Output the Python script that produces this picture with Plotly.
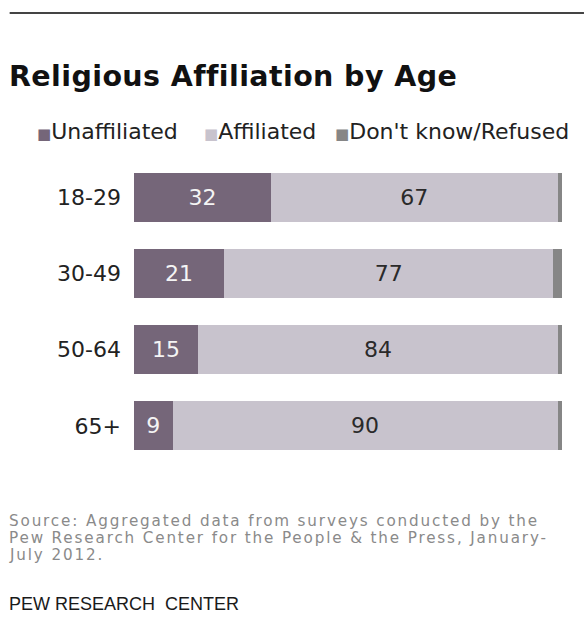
import plotly.graph_objects as go

# Survey shares by age group (percent)
age_groups = ["18-29", "30-49", "50-64", "65+"]
unaffiliated = [32, 21, 15, 9]
affiliated = [67, 77, 84, 90]
dont_know = [1, 2, 1, 1]

series_names = ["Unaffiliated", "Affiliated", "Don't know/Refused"]
series_colors = ["#756679", "#c8c3cd", "#868686"]

W, H = 584, 641
L, R, T, B = 133.5, 22, 159, 177
PW, PH = W - L - R, H - T - B


def px(x):
    return (x - L) / PW


def py(y):
    return 1 - (y - T) / PH


fig = go.Figure()

fig.add_trace(go.Bar(
    y=age_groups, x=unaffiliated, orientation="h", name=series_names[0],
    marker=dict(color=series_colors[0], line=dict(width=0)),
    text=unaffiliated, texttemplate="%{text}", textposition="inside",
    insidetextanchor="middle",
    textfont=dict(family="DejaVu Sans", size=22, color="#f4f4f4"),
))
fig.add_trace(go.Bar(
    y=age_groups, x=affiliated, orientation="h", name=series_names[1],
    marker=dict(color=series_colors[1], line=dict(width=0)),
    text=affiliated, texttemplate="%{text}", textposition="inside",
    insidetextanchor="middle",
    textfont=dict(family="DejaVu Sans", size=22, color="#2a2a2a"),
))
fig.add_trace(go.Bar(
    y=age_groups, x=dont_know, orientation="h", name=series_names[2],
    marker=dict(color=series_colors[2], line=dict(width=0)),
    hoverinfo="x+name",
))

fig.update_layout(
    width=W, height=H,
    margin=dict(l=L, r=R, t=T, b=B, pad=0),
    barmode="stack", bargap=0.36,
    showlegend=False,
    plot_bgcolor="white", paper_bgcolor="white",
    xaxis=dict(range=[0, 100], visible=False, fixedrange=True),
    yaxis=dict(
        autorange="reversed", showgrid=False, zeroline=False, showline=False,
        ticks="", ticklabelstandoff=12,
        tickfont=dict(family="DejaVu Sans", size=22, color="#222222"),
    ),
)

# Top rule
fig.add_shape(type="line", xref="paper", yref="paper",
              x0=px(9), x1=px(584), y0=py(13), y1=py(13),
              line=dict(color="#444444", width=2))

# Title
fig.add_annotation(
    text="<span style='letter-spacing:0.4px'><b>Religious Affiliation by Age</b></span>",
    xref="paper", yref="paper",
    x=px(6), y=py(76), xanchor="left", yanchor="middle", showarrow=False,
    font=dict(family="DejaVu Sans", size=28.5, color="#111111"),
)

# Legend row
legend_x = [34, 202, 333]
for name, color, lx in zip(series_names, series_colors, legend_x):
    fig.add_annotation(
        text=f"<span style='color:{color};font-size:15px'>■</span>{name}",
        xref="paper", yref="paper", x=px(lx), y=py(131),
        xanchor="left", yanchor="middle", showarrow=False,
        font=dict(family="DejaVu Sans", size=22, color="#222222"),
    )

# Source note
source_lines = [
    "Source: Aggregated data from surveys conducted by the",
    "Pew Research Center for the People &amp; the Press, January-",
    "July 2012.",
]
for i, line in enumerate(source_lines):
    fig.add_annotation(
        text=f"<span style='letter-spacing:1.85px'>{line}</span>",
        xref="paper", yref="paper", x=px(7), y=py(521 + 17 * i),
        xanchor="left", yanchor="middle", showarrow=False, borderpad=0,
        font=dict(family="DejaVu Sans", size=15.2, color="#8a8a8a"),
    )

fig.add_annotation(
    text="PEW RESEARCH  CENTER", xref="paper", yref="paper",
    x=px(6), y=py(604), xanchor="left", yanchor="middle", showarrow=False,
    font=dict(family="Liberation Sans", size=18, color="#1a1a1a"),
)

fig.write_html("out.html")
